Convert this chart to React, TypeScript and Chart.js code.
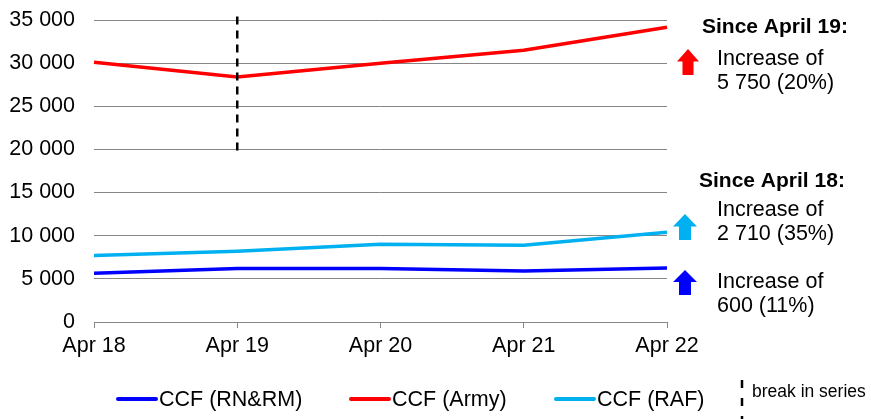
import React, { useEffect, useRef } from "react";
import { Chart, registerables } from "chart.js";

Chart.register(...registerables);

const categories = ["Apr 18", "Apr 19", "Apr 20", "Apr 21", "Apr 22"];
const rnrm = [5650, 6200, 6200, 5900, 6250];
const army = [30100, 28400, 30000, 31500, 34150];
const raf = [7700, 8200, 9000, 8900, 10410];
const yTicks = [0, 5000, 10000, 15000, 20000, 25000, 30000, 35000];
const breakIndex = 1;
const breakRange = [19700, 35400];

const FONT = '"Liberation Sans", Arial, sans-serif';
const BLUE = "#0000FF";
const RED = "#FF0000";
const LIGHT = "#00B0F0";

function fmt(v: number) {
  return String(v).replace(/\B(?=(\d{3})+(?!\d))/g, " ");
}

function arrow(ctx: CanvasRenderingContext2D, cx: number, top: number, bottom: number, w: number, color: string) {
  const headH = (bottom - top) * 0.48;
  const stem = w * 0.5;
  ctx.save();
  ctx.fillStyle = color;
  ctx.beginPath();
  ctx.moveTo(cx, top);
  ctx.lineTo(cx + w / 2, top + headH);
  ctx.lineTo(cx + stem / 2, top + headH);
  ctx.lineTo(cx + stem / 2, bottom);
  ctx.lineTo(cx - stem / 2, bottom);
  ctx.lineTo(cx - stem / 2, top + headH);
  ctx.lineTo(cx - w / 2, top + headH);
  ctx.closePath();
  ctx.fill();
  ctx.restore();
}

const extrasPlugin = {
  id: "extras",
  afterDatasetsDraw(chart: any) {
    const ctx: CanvasRenderingContext2D = chart.ctx;
    const xs = chart.scales.x;
    const ys = chart.scales.y;
    const bx = xs.getPixelForValue(breakIndex);
    ctx.save();
    ctx.strokeStyle = "#000";
    ctx.lineWidth = 2.5;
    ctx.setLineDash([8, 6]);
    ctx.beginPath();
    ctx.moveTo(bx, ys.getPixelForValue(breakRange[1]));
    ctx.lineTo(bx, ys.getPixelForValue(breakRange[0]));
    ctx.stroke();
    ctx.restore();
  },
  afterDraw(chart: any) {
    const ctx: CanvasRenderingContext2D = chart.ctx;
    ctx.save();
    ctx.fillStyle = "#000";
    ctx.textBaseline = "middle";
    ctx.textAlign = "left";
    ctx.font = `bold 21px ${FONT}`;
    ctx.fillText("Since April 19:", 702, 27);
    ctx.fillText("Since April 18:", 699, 181);
    ctx.font = `21.5px ${FONT}`;
    ctx.fillText("Increase of", 717, 59);
    ctx.fillText("5 750 (20%)", 717, 83);
    ctx.fillText("Increase of", 717, 210);
    ctx.fillText("2 710 (35%)", 717, 234);
    ctx.fillText("Increase of", 717, 282);
    ctx.fillText("600 (11%)", 717, 306);
    arrow(ctx, 688, 49, 75, 22, RED);
    arrow(ctx, 685, 214, 240, 24, LIGHT);
    arrow(ctx, 685, 270, 295, 24, BLUE);

    const ly = 399;
    const items = [
      { c: BLUE, x1: 118, x2: 156, t: "CCF (RN&RM)" },
      { c: RED, x1: 351, x2: 389, t: "CCF (Army)" },
      { c: LIGHT, x1: 556, x2: 594, t: "CCF (RAF)" },
    ];
    ctx.lineCap = "round";
    for (const it of items) {
      ctx.strokeStyle = it.c;
      ctx.lineWidth = 4;
      ctx.beginPath();
      ctx.moveTo(it.x1, ly);
      ctx.lineTo(it.x2, ly);
      ctx.stroke();
      ctx.fillStyle = "#000";
      ctx.font = `21.5px ${FONT}`;
      ctx.fillText(it.t, it.x2 + 3, ly + 1);
    }
    ctx.lineCap = "butt";
    ctx.strokeStyle = "#000";
    ctx.lineWidth = 2.5;
    ctx.setLineDash([8, 10]);
    ctx.beginPath();
    ctx.moveTo(742, 380);
    ctx.lineTo(742, 425);
    ctx.stroke();
    ctx.setLineDash([]);
    ctx.font = `17.5px ${FONT}`;
    ctx.fillText("break in series", 752, 392);
    ctx.restore();
  },
};

export default function App() {
  const ref = useRef<HTMLCanvasElement>(null);
  useEffect(() => {
    if (!ref.current) return;
    const line = (label: string, data: number[], color: string) => ({
      label,
      data,
      borderColor: color,
      backgroundColor: color,
      borderWidth: 3.5,
      pointRadius: 0,
      tension: 0,
      fill: false,
    });
    const chart = new Chart(ref.current, {
      type: "line",
      data: {
        labels: categories,
        datasets: [
          line("CCF (RN&RM)", rnrm, BLUE),
          line("CCF (Army)", army, RED),
          line("CCF (RAF)", raf, LIGHT),
        ],
      },
      options: {
        animation: false,
        responsive: true,
        maintainAspectRatio: false,
        layout: { padding: { top: 20, right: 204, left: 0, bottom: 0 } },
        plugins: { legend: { display: false }, tooltip: { enabled: false } },
        scales: {
          x: {
            offset: false,
            grid: { drawOnChartArea: false, drawTicks: true, tickLength: 6, color: "#868686" },
            border: { color: "#868686", width: 1 },
            ticks: { color: "#000", font: { family: FONT, size: 21.5 }, padding: 5, maxRotation: 0 },
            afterFit: (s: any) => {
              s.height = 97;
              s.paddingLeft = 0;
              s.paddingRight = 0;
            },
          },
          y: {
            min: 0,
            max: 35000,
            afterBuildTicks: (s: any) => {
              s.ticks = yTicks.map((v) => ({ value: v }));
            },
            grid: { color: "#868686", lineWidth: 1, drawTicks: false },
            border: { display: false },
            ticks: {
              color: "#000",
              font: { family: FONT, size: 21.5 },
              padding: 19,
              callback: (v: any) => fmt(Number(v)),
            },
            afterFit: (s: any) => {
              s.width = 94;
              s.paddingTop = 0;
              s.paddingBottom = 0;
            },
          },
        },
      },
      plugins: [extrasPlugin],
    });
    return () => chart.destroy();
  }, []);
  return (
    <div style={{ position: "absolute", left: 0, top: 0, width: 871, height: 419, background: "#fff" }}>
      <canvas ref={ref} />
    </div>
  );
}
